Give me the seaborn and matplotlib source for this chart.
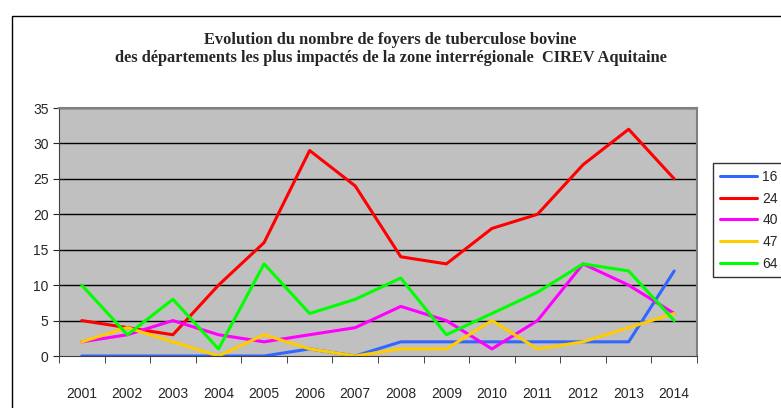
import numpy as np
import pandas as pd
import seaborn as sns
import matplotlib.pyplot as plt
from matplotlib.patches import Rectangle

# donnees
annees = [2001, 2002, 2003, 2004, 2005, 2006, 2007, 2008, 2009, 2010, 2011, 2012, 2013, 2014]
dep16 = [0, 0, 0, 0, 0, 1, 0, 2, 2, 2, 2, 2, 2, 12]
dep24 = [5, 4, 3, 10, 16, 29, 24, 14, 13, 18, 20, 27, 32, 25]
dep40 = [2, 3, 5, 3, 2, 3, 4, 7, 5, 1, 5, 13, 10, 6]
dep47 = [2, 4, 2, 0, 3, 1, 0, 1, 1, 5, 1, 2, 4, 6]
dep64 = [10, 3, 8, 1, 13, 6, 8, 11, 3, 6, 9, 13, 12, 5]
departements = ["16", "24", "40", "47", "64"]
couleurs = ["#3366FF", "#FF0000", "#FF00FF", "#FFCC00", "#00FF00"]

series = [dep16, dep24, dep40, dep47, dep64]
rows = []
for dep, vals in zip(departements, series):
    for i, v in enumerate(vals):
        rows.append({"pos": i, "annee": str(annees[i]), "dep": dep, "foyers": v})
df = pd.DataFrame(rows)

sns.set_style("white")
plt.rcParams['font.family'] = ['Liberation Sans', 'DejaVu Sans']

fig = plt.figure(figsize=(7.81, 4.08), dpi=100)

# cadre exterieur
fig.patches.append(Rectangle((12 / 781, -0.01), 1.0, 1 - 16 / 408 + 0.01,
                             transform=fig.transFigure, fill=False,
                             edgecolor="black", linewidth=1.0))

ax = fig.add_axes([59 / 781, 1 - 356 / 408, (697 - 59) / 781, (356 - 108) / 408])
ax.set_facecolor("#C0C0C0")

sns.lineplot(data=df, x="pos", y="foyers", hue="dep", palette=couleurs,
             hue_order=departements, linewidth=2.2, ax=ax, legend=False)

ax.set_xlim(-0.5, 13.5)
ax.set_ylim(0, 35)
ax.set_yticks(range(0, 36, 5))
ax.set_xticks(range(len(annees)))
ax.set_xticklabels([str(a) for a in annees], fontsize=10)
ax.tick_params(axis="y", labelsize=10, length=4, direction="out", left=True)
ax.set_xticks(np.arange(-0.5, 14, 1), minor=True)
ax.tick_params(axis="x", which="major", length=0, pad=22)
ax.tick_params(axis="x", which="minor", length=5, direction="out", bottom=True)
for y in range(5, 36, 5):
    ax.axhline(y, color="black", linewidth=1.0, zorder=1)
ax.set_xlabel("")
ax.set_ylabel("")
for s in ["top", "right"]:
    ax.spines[s].set_color("#808080")
    ax.spines[s].set_linewidth(1.5)
ax.spines["left"].set_color("#404040")
ax.spines["bottom"].set_color("#404040")

# titre
fig.text(0.5, 1 - 40 / 408, "Evolution du nombre de foyers de tuberculose bovine",
         ha="center", va="center", fontsize=11.8, fontweight="bold",
         family=["Liberation Serif", "DejaVu Serif"])
fig.text(0.5, 1 - 58 / 408,
         "des départements les plus impactés de la zone interrégionale  CIREV Aquitaine",
         ha="center", va="center", fontsize=11.8, fontweight="bold",
         family=["Liberation Serif", "DejaVu Serif"])

# legende
handles = [plt.Line2D([], [], color=c, linewidth=2.2) for c in couleurs]
leg = fig.legend(handles, departements, loc="upper left",
                 bbox_to_anchor=(713 / 781, 1 - 163 / 408), fontsize=10,
                 frameon=True, fancybox=False, handlelength=2.7,
                 handletextpad=0.35, labelspacing=0.55, borderpad=0.5,
                 borderaxespad=0.0)
leg.get_frame().set_edgecolor("black")
leg.get_frame().set_linewidth(1.0)

fig.savefig("out.png", dpi=100)
